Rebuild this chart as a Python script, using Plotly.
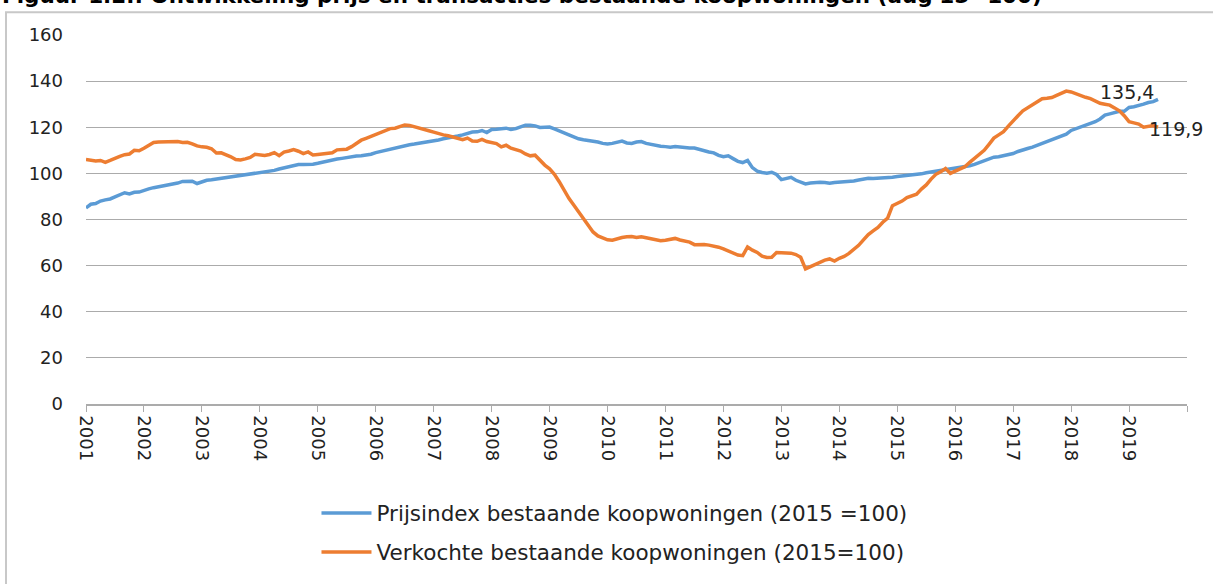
import plotly.graph_objects as go

# monthly values, jan 2001 .. jul 2019 (one row per year)
prijsindex = [
    85.0, 86.6, 86.9, 88.0, 88.5, 88.9, 89.8, 90.7, 91.6, 91.1, 91.8, 91.9,
    92.7, 93.3, 93.8, 94.2, 94.4, 94.9, 95.3, 95.8, 96.5, 96.7, 96.6, 95.6,
    96.4, 97.0, 97.2, 97.5, 97.9, 98.2, 98.4, 98.7, 99.0, 99.3, 99.6, 100.0,
    100.4, 100.7, 101.0, 101.3, 101.9, 102.4, 102.9, 103.6, 103.8, 103.9, 103.8, 104.0,
    104.4, 104.9, 105.3, 105.7, 106.2, 106.5, 106.8, 107.4, 107.5, 107.6, 107.8, 108.3,
    109.0, 109.5, 110.0, 110.4, 111.0, 111.6, 112.1, 112.4, 112.7, 113.0, 113.3, 113.6,
    114.0, 114.5, 115.0, 115.3, 115.7, 116.2, 116.7, 117.5, 117.9, 118.0, 118.6, 117.7,
    119.0, 119.1, 119.4, 119.6, 119.0, 119.4, 120.2, 120.9, 120.9, 120.6, 119.9, 120.1,
    120.1, 119.3, 118.6, 117.6, 116.7, 115.8, 115.0, 114.6, 114.3, 114.0, 113.6, 113.0,
    112.7, 113.0, 113.4, 114.0, 113.2, 113.0, 113.6, 113.8, 113.0, 112.5, 112.1, 111.8,
    111.6, 111.3, 111.6, 111.3, 111.1, 111.0, 111.0, 110.4, 109.6, 109.3, 108.9, 107.8,
    107.2, 107.6, 106.4, 105.2, 104.7, 105.6, 102.5, 101.0, 100.4, 100.1, 100.5, 99.5,
    97.3, 97.9, 98.3, 97.0, 96.0, 95.4, 95.8, 96.1, 96.1, 96.0, 95.7, 96.0,
    96.2, 96.3, 96.3, 96.7, 97.1, 97.5, 97.9, 97.8, 97.9, 98.0, 98.0, 98.3,
    98.6, 98.8, 99.0, 99.1, 99.3, 99.8, 100.3, 100.6, 101.0, 101.3, 101.6, 101.9,
    102.4, 102.6, 102.9, 103.3, 103.9, 104.6, 105.3, 106.2, 107.0, 107.2, 107.6, 108.0,
    108.6, 109.5, 110.3, 110.8, 111.4, 112.2, 112.9, 113.8, 114.7, 115.4, 116.1, 117.0,
    118.6, 119.3, 120.0, 120.6, 121.4, 122.4, 123.6, 125.3, 125.8, 126.4, 126.9, 126.9,
    128.6, 128.9, 129.3, 130.0, 130.7, 131.1, 132.1,
]

verkocht = [
    106.0, 105.6, 105.4, 105.6, 104.8, 105.6, 106.6, 107.4, 108.1, 108.4, 110.0, 109.8,
    110.9, 112.1, 113.4, 113.6, 113.7, 113.7, 113.9, 113.8, 113.4, 113.5, 112.8, 111.9,
    111.5, 111.3, 110.7, 108.8, 108.9, 108.2, 107.2, 106.0, 105.8, 106.3, 106.9, 108.3,
    107.9, 107.8, 108.2, 109.0, 107.7, 109.2, 109.7, 110.3, 109.6, 108.6, 109.3, 108.0,
    108.2, 108.5, 108.7, 108.9, 110.2, 110.3, 110.5, 111.6, 112.9, 114.4, 115.2, 116.0,
    117.0, 117.6, 118.6, 119.4, 119.6, 120.4, 121.0, 120.8, 120.3, 119.8, 119.3, 118.5,
    117.9, 117.2, 116.7, 116.3, 115.7, 115.2, 114.6, 115.3, 114.0, 113.9, 114.7, 113.8,
    113.3, 112.9, 111.5, 112.2, 110.9, 110.3, 109.7, 108.4, 107.6, 107.9, 105.5, 103.6,
    102.0, 99.6, 96.4, 92.5, 89.2, 86.3, 83.3, 80.0, 77.1, 74.6, 72.9, 71.9,
    71.2, 71.0, 71.7, 72.2, 72.5, 72.6, 72.2, 72.5, 72.1, 71.7, 71.3, 70.8,
    71.0, 71.5, 71.8, 71.1, 70.8, 70.2, 69.1, 69.3, 69.2, 68.9, 68.6, 68.0,
    67.3, 66.3, 65.3, 64.6, 64.3, 68.1, 66.7, 65.7, 64.1, 63.5, 63.6, 65.7,
    65.6, 65.5, 65.4, 64.8, 63.6, 58.6, 59.6, 60.6, 61.6, 62.4, 62.9, 62.0,
    63.2, 64.0, 65.3, 67.0, 68.8, 71.2, 73.5, 75.1, 76.6, 78.8, 80.6, 86.0,
    86.8, 88.0, 89.5, 90.4, 91.0, 93.2, 95.0, 97.5, 99.6, 100.7, 102.1, 100.0,
    101.0, 102.0, 102.9, 104.8, 106.4, 108.2, 110.0, 112.6, 115.3, 116.7, 118.1, 120.5,
    122.9, 125.0, 127.1, 128.4, 129.6, 131.0, 132.4, 132.6, 132.9, 133.8, 134.7, 135.7,
    135.3, 134.4, 133.6, 133.0, 132.4, 131.4, 130.4, 130.0, 129.6, 128.4, 127.1, 125.0,
    122.4, 121.9, 121.4, 120.0, 120.4, 120.7, 120.0,
]

years = [str(y) for y in range(2001, 2020)]
label_prijs = '135,4'
label_verkocht = '119,9'

BLUE = '#5B9BD5'
ORANGE = '#ED7D31'
GRID = '#ABABAB'
FONT = 'DejaVu Sans'

months = list(range(len(prijsindex)))

fig = go.Figure()
fig.add_trace(go.Scatter(
    x=months, y=prijsindex, mode='lines', legendgroup='a',
    name='Prijsindex bestaande koopwoningen (2015 =100)',
    line=dict(color=BLUE, width=3.5),
))
fig.add_trace(go.Scatter(
    x=months, y=verkocht, mode='lines', legendgroup='b',
    name='Verkochte bestaande koopwoningen (2015=100)',
    line=dict(color=ORANGE, width=3.5),
))

# end-of-line labels
fig.add_annotation(x=months[-1], y=prijsindex[-1], text=label_prijs, showarrow=False,
                   xanchor='right', yanchor='middle', xshift=-2, yshift=7,
                   font=dict(family=FONT, size=19, color='#222'))
fig.add_annotation(x=months[-1], y=verkocht[-1], text=label_verkocht, showarrow=False,
                   xanchor='left', yanchor='middle', xshift=-11, yshift=-2,
                   font=dict(family=FONT, size=19, color='#222'))

# cut-off figure title at the very top of the page
fig.add_annotation(xref='paper', yref='paper', x=-86 / 1101, y=(408 + 5) / 373,
                   xanchor='left', yanchor='middle', showarrow=False,
                   text="<b>Figuur 1.2.: Ontwikkeling prijs en transacties bestaande koopwoningen (aug'15=100)</b>",
                   font=dict(family=FONT, size=21.5, color='#000'))

# chart frame
fig.add_shape(type='rect', xref='paper', yref='paper',
              x0=-80 / 1101, x1=1.1, y0=-0.6, y1=(408 - 12) / 373,
              line=dict(color='#C8C8C8', width=2), layer='below')

fig.update_layout(
    width=1213, height=584,
    margin=dict(l=86, r=26, t=35, b=176),
    paper_bgcolor='white', plot_bgcolor='white',
    font=dict(family=FONT, size=18, color='#222'),
    showlegend=True,
    legend=dict(orientation='v', x=0.48, xanchor='center', y=-0.24, yanchor='top',
                font=dict(family=FONT, size=21.5, color='#222'),
                itemwidth=50, tracegroupgap=8),
)
fig.update_xaxes(range=[0, 228], tickvals=list(range(0, 229, 12)),
                 ticktext=years + [''], tickangle=90,
                 showgrid=False, zeroline=False, showline=True,
                 linecolor=GRID, linewidth=1.5, ticks='outside', ticklen=6,
                 tickcolor=GRID, tickfont=dict(family=FONT, size=18, color='#222'))
fig.update_yaxes(range=[0, 160], dtick=20, showgrid=True, gridcolor=GRID, gridwidth=1.3,
                 zeroline=False, showline=False, ticks='', ticklabelstandoff=22,
                 tickfont=dict(family=FONT, size=18, color='#222'))

fig.write_html('out.html', config={'displayModeBar': False},
               post_script="document.body.style.margin='0';")
